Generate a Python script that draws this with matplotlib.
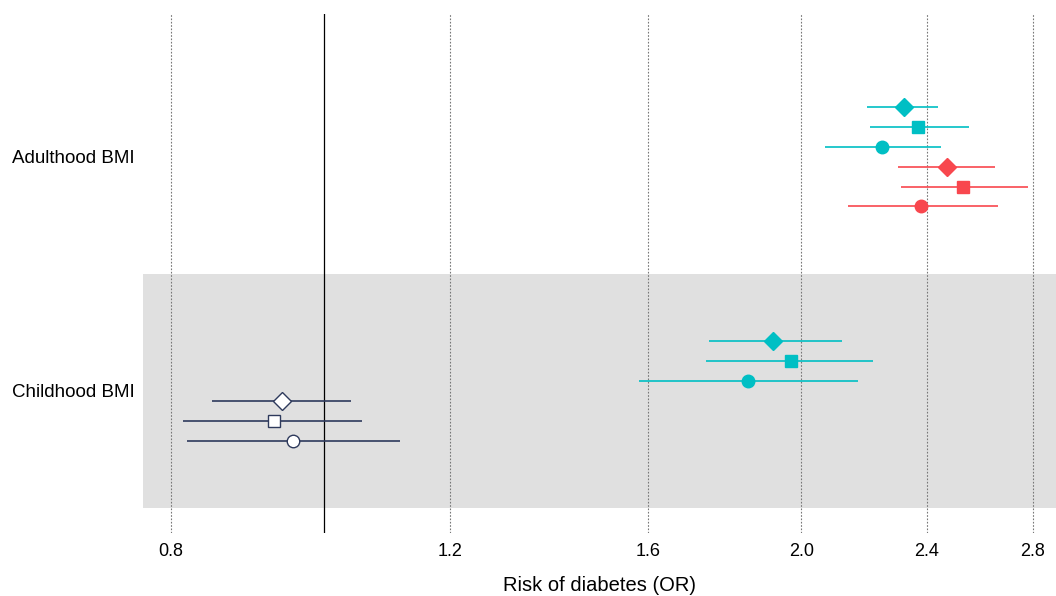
import matplotlib
matplotlib.use("Agg")
import matplotlib.pyplot as plt
from matplotlib.ticker import FixedLocator, FixedFormatter, NullLocator
import numpy as np

plt.rcParams['font.family'] = ['Liberation Sans', 'DejaVu Sans']

groups = ["Adulthood BMI", "Childhood BMI"]
# per group, rows from top to bottom
markers = ["D", "s", "o", "D", "s", "o"]
adult_or = [2.32, 2.37, 2.25, 2.47, 2.53, 2.38]
adult_lo = [2.20, 2.21, 2.07, 2.30, 2.31, 2.14]
adult_hi = [2.44, 2.55, 2.45, 2.65, 2.78, 2.66]
adult_col = ["#00BFC4", "#00BFC4", "#00BFC4", "#F8474E", "#F8474E", "#F8474E"]
adult_face = adult_col
child_or = [1.92, 1.97, 1.85, 0.94, 0.93, 0.956]
child_lo = [1.75, 1.74, 1.58, 0.85, 0.815, 0.819]
child_hi = [2.12, 2.22, 2.17, 1.04, 1.057, 1.117]
child_col = ["#00BFC4", "#00BFC4", "#00BFC4", "#2E3A5C", "#2E3A5C", "#2E3A5C"]
child_face = ["#00BFC4", "#00BFC4", "#00BFC4", "white", "white", "white"]
xticks = [0.8, 1.2, 1.6, 2.0, 2.4, 2.8]
xticklabels = ["0.8", "1.2", "1.6", "2.0", "2.4", "2.8"]

fig = plt.figure(figsize=(10.56, 5.96), dpi=100)
ax = fig.add_axes([143/1056, 1-533/596, 1-143/1056, (533-14)/596])
ax.set_xscale("log")
ax.set_xlim(0.7685, 2.895)
ax.set_ylim(0.393, 2.61)

ax.axhspan(0.5, 1.5, color="#E0E0E0", zorder=0, lw=0)
for t in xticks:
    ax.axvline(t, color="#777777", lw=0.8, ls=(0, (1.5, 1.5)), zorder=1)
ax.axvline(1.0, color="black", lw=0.9, zorder=2)

offsets = [0.212, 0.127, 0.042, -0.042, -0.127, -0.212]
sizes = {"D": 9.5, "s": 8, "o": 9}
datasets = [(2, adult_or, adult_lo, adult_hi, adult_col, adult_face),
            (1, child_or, child_lo, child_hi, child_col, child_face)]
for yc, ors, los, his, cols, faces in datasets:
    for i in range(6):
        y = yc + offsets[i]
        ax.hlines(y, los[i], his[i], color=cols[i], lw=1.2, zorder=3)
        ax.plot([ors[i]], [y], marker=markers[i], ms=sizes[markers[i]],
                mfc=faces[i], mec=cols[i], mew=1.0, ls="none", zorder=4)

ax.xaxis.set_major_locator(FixedLocator(xticks))
ax.xaxis.set_major_formatter(FixedFormatter(xticklabels))
ax.xaxis.set_minor_locator(NullLocator())
ax.tick_params(axis="x", length=0, labelsize=13, pad=7)
ax.set_yticks([2, 1])
ax.set_yticklabels(groups)
ax.tick_params(axis="y", length=0, labelsize=13.5, pad=0)
for lab in ax.get_yticklabels():
    lab.set_horizontalalignment("left")
    lab.set_x(-131/913)
ax.set_xlabel("Risk of diabetes (OR)", fontsize=14.5, labelpad=12)
for s in ax.spines.values():
    s.set_visible(False)

fig.savefig("out.png", dpi=100)
